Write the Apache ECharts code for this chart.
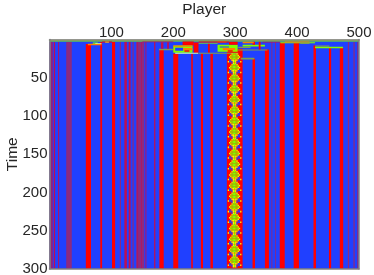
<!DOCTYPE html>
<html><head><meta charset="utf-8">
<style>html,body{margin:0;padding:0;background:#fff}#c{width:374px;height:275px}</style>
<script src="https://cdn.jsdelivr.net/npm/echarts@6/dist/echarts.min.js"></script>
</head><body><div id="c"></div>
<script>
const xTicks = [100,200,300,400,500];
const yTicks = [50,100,150,200,250,300];
const palette = {B:'#2040ff',R:'#ff0000',G:'#80ff00',Y:'#ffff00',O:'#ff8000',P:'#8c2a80',g:'#7f9f50',C:'#d0ffb0',D:'#c01050'};
// frozen stripes: [firstPlayer, lastPlayer, startTime, colour]
const stripes = [
[0,3,3,'P'],[3,5,3,'D'],[7,9,3,'D'],[14,15.5,3,'D'],[27,36,3,'P'],[58.7,67,6,'R'],[82,85,3,'R'],[101,106,3,'R'],
[113.5,115.5,3,'P'],[121,125,3,'D'],[128,131,3,'D'],[134,136,3,'P'],[140,153,3,'P'],[142,143,3,'D'],[148,149,3,'D'],
[155,156.5,3,'D'],[169,171,3,'D'],[177.5,184.5,13,'R'],[200,208,18.6,'R'],[229,231.5,18.6,'R'],[244.5,248,18.6,'R'],
[260,264,18.6,'R'],[286.5,312,12,'R'],[328,332,25,'R'],[348,354.5,13,'R'],[358.5,360,3,'P'],[364.5,366,3,'P'],
[372,380,4,'R'],[394.5,403,4,'R'],[426.5,430.5,8,'R'],[451.5,455,10,'R'],[469,474.5,11,'R'],[482,484,3,'P'],[491,493,3,'P'],[497,499,3,'P']
];
// early transient patches: [firstPlayer, lastPlayer, t0, t1, colour]
const patches = [
[0,500,0,1.5,'Y'],[0,500,1,2.5,'G'],
[85,101,2.5,4,'R'],[90,96,3,4,'Y'],[62,84,5.5,7.5,'O'],[70,78,4,5.5,'G'],[74,84,5,6,'C'],
[150,200,2.5,3.5,'D'],[177,200,12,14,'g'],[180,184,3.5,12,'D'],[190,193,3.5,12,'D'],
[215,233,2.5,8,'R'],[200,231,8,17.3,'G'],[203,216,10.7,14.6,'B'],[216,231,11,14,'O'],[200,231,8,9.5,'O'],[218,226,14,16,'R'],
[233,241,4,17.3,'R'],[241,271.5,4.2,5.5,'G'],[241,271.5,5.5,17.3,'B'],[256,259,5.5,17.3,'R'],
[271.5,304,7,16,'G'],[275,290,9,10.5,'B'],[280,300,11,14,'O'],[290,304,3,7,'R'],[271,286,2.5,4,'O'],[241,290,2.5,4,'R'],[288,296,14,16,'R'],
[203,240,17.3,18.6,'C'],[240,305,17.3,18.6,'g'],[305,325,9.5,11,'g'],[304,352,13,14.5,'g'],[309,331,24,26,'g'],
[312,348,7,9,'G'],[328,332,3,7,'R'],[338,341,3,13,'R'],[312,330,3,5,'O'],[344,372,3,4,'D'],
[373,429,3.5,5,'G'],[380,420,2.5,4,'O'],[405,420,4,6,'g'],[429,474,9.5,11.5,'G'],[429,452,8,9.5,'g']
];
// one repeat of the central oscillator, each row 2 time units, each column 2 players from player 286
const bandMotif = [
"RRRRYGGGYRRRR",
"RRRYGGGGGYRRR",
"RRYGGGGGGGYRR",
"RRRYGGGGGYRRR",
"RRBBYYGYYBBRR",
"RYBBBYGYBBBYR",
"RRRRBYGYBRRRR"
];
const bandStarts = [18,32,46,60,74,88,102,116,130,144,158,172,186,200,214,228,242,256,270,284];
const bandCols = [286,288,290,292,294,296,298,300,302,304,306,308,310];

const rects = [[0,500,0,300,'B']];
stripes.forEach(s=>rects.push([s[0],s[1],s[2],300,s[3]]));
patches.forEach(p=>rects.push(p));
bandStarts.forEach(t=>bandMotif.forEach((row,i)=>{
  row.split('').forEach((c,j)=>{ if(c!=='R'){
    const t0=t+i*2, t1=Math.min(t0+2,300);
    if(t0<300) rects.push([bandCols[j],bandCols[j]+2,t0,t1,c]);
  }});
}));

const font='"Liberation Sans",Arial,sans-serif';
const label={fontFamily:font,fontSize:15,color:'#262626'};
const frame={lineStyle:{color:'#808080',width:1.5}};
const chart=echarts.init(document.getElementById('c'),null,{renderer:'canvas'});
chart.setOption({
  animation:false,backgroundColor:'#fff',
  grid:{left:49.5,top:39.5,width:309.5,height:229.5,containLabel:false,outerBoundsMode:'none'},
  xAxis:[
   {type:'value',position:'top',min:0,max:500,interval:100,z:5,axisLine:{show:true,onZero:false,...frame},axisTick:{show:false},splitLine:{show:false},
    axisLabel:{...label,margin:-1,hideOverlap:false,showMinLabel:true,showMaxLabel:true,formatter:v=>xTicks.includes(v)?String(v):''},
    name:'Player',nameLocation:'center',nameMoveOverlap:false,nameGap:30,nameTextStyle:{fontFamily:font,fontSize:15.5,color:'#262626',verticalAlign:'middle'}},
   {type:'value',position:'bottom',min:0,max:500,interval:100,z:5,axisLine:{show:true,onZero:false,...frame},axisTick:{show:false},splitLine:{show:false},axisLabel:{show:false}}
  ],
  yAxis:[
   {type:'value',position:'left',inverse:true,min:0,max:300,interval:50,z:5,axisLine:{show:true,onZero:false,...frame},axisTick:{show:false},splitLine:{show:false},
    axisLabel:{...label,margin:2,padding:[2,0,0,0],hideOverlap:false,showMinLabel:true,showMaxLabel:true,formatter:v=>yTicks.includes(v)?String(v):''},
    name:'Time',nameLocation:'center',nameMoveOverlap:false,nameGap:37,nameTextStyle:{fontFamily:font,fontSize:15.5,color:'#262626',verticalAlign:'middle'}},
   {type:'value',position:'right',inverse:true,min:0,max:300,interval:50,z:5,axisLine:{show:true,onZero:false,...frame},axisTick:{show:false},splitLine:{show:false},axisLabel:{show:false}}
  ],
  series:[{type:'custom',coordinateSystem:'cartesian2d',silent:true,clip:true,z:2,
    encode:{x:[0,1],y:[2,3]},
    data:rects,
    renderItem:(params,api)=>{
      const a=api.coord([api.value(0),api.value(2)]),b=api.coord([api.value(1),api.value(3)]);
      return {type:'rect',shape:{x:a[0],y:a[1],width:b[0]-a[0],height:b[1]-a[1]},style:{fill:palette[rects[params.dataIndex][4]]}};
    }}]
});
</script></body></html>
